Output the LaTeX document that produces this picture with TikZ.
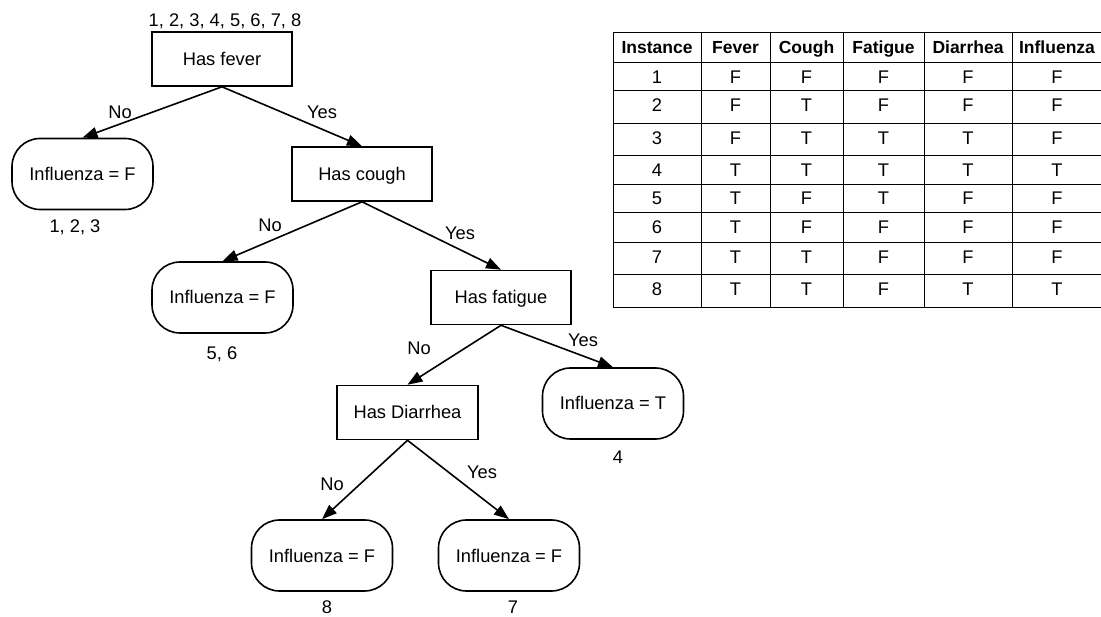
\documentclass[tikz,border=0pt]{standalone}
\usepackage{fontspec}
\setmainfont{Liberation Sans}
\usetikzlibrary{arrows.meta}

\begin{document}
\begin{tikzpicture}[x=1pt,y=-1pt,
  font=\fontsize{18.3}{21}\selectfont,
  txt/.style={inner sep=0pt,text height=13pt,text depth=0pt},
  testbox/.style={txt,draw,line width=1.6pt,minimum width=140pt,minimum height=54pt},
  leafbox/.style={txt,draw,line width=1.6pt,minimum width=141pt,minimum height=71pt,rounded corners=28pt},
  branch/.style={line width=1.6pt,-{Triangle[length=15pt,width=11pt]}},
  grid/.style={line width=1pt}]

\useasboundingbox (0,0) rectangle (1101,617);

% decision tree
\node[testbox] (fever)    at (222,59)      {Has fever};
\node[leafbox] (leafA)    at (82.5,174)    {Influenza = F};
\node[testbox] (cough)    at (362,174)     {Has cough};
\node[leafbox] (leafB)    at (222.5,297.5) {Influenza = F};
\node[testbox] (fatigue)  at (501,297.5)   {Has fatigue};
\node[testbox,minimum width=141pt] (diarrhea) at (407.5,412.5) {Has Diarrhea};
\node[leafbox] (leafC)    at (613,403.5)   {Influenza = T};
\node[leafbox] (leafD)    at (322,555.5)   {Influenza = F};
\node[leafbox] (leafE)    at (509,555.5)   {Influenza = F};

\draw[branch] (fever.south)    -- (leafA.north);
\draw[branch] (fever.south)    -- (cough.north);
\draw[branch] (cough.south)    -- (leafB.north);
\draw[branch] (cough.south)    -- (fatigue.north);
\draw[branch] (fatigue.south)  -- (diarrhea.north);
\draw[branch] (fatigue.south)  -- (leafC.north);
\draw[branch] (diarrhea.south) -- (leafD.north);
\draw[branch] (diarrhea.south) -- (leafE.north);

% branch labels
\node[txt] (n1) at (120,112) {No};
\node[txt] (y1) at (322,112) {Yes};
\node[txt] (n2) at (270,225) {No};
\node[txt] (y2) at (460,233) {Yes};
\node[txt] (n3) at (419,348) {No};
\node[txt] (y3) at (583,340) {Yes};
\node[txt] (n4) at (332,484) {No};
\node[txt] (y4) at (482,472) {Yes};

% instance sets
\node[txt] (sAll) at (225,20)  {1, 2, 3, 4, 5, 6, 7, 8};
\node[txt] (sA)   at (75,226)  {1, 2, 3};
\node[txt] (sB)   at (222,353) {5, 6};
\node[txt] (sC)   at (618,457) {4};
\node[txt] (sD)   at (327,607) {8};
\node[txt] (sE)   at (513,607) {7};

% data table
\foreach \x in {613,701,770,843,924,1012,1102}
  \draw[grid] (\x,33) -- (\x,308);
\foreach \y in {33,63,91,124,156,185,213,243,275,308}
  \draw[grid] (613,\y) -- (1102,\y);

\foreach \t/\cx [count=\i] in {Instance/657,Fever/735.5,Cough/806.5,Fatigue/883.5,Diarrhea/968,Influenza/1057}
  \node[txt,font=\fontsize{17.5}{20}\selectfont\bfseries] (h\i) at (\cx,47) {\t};

\foreach \r/\ty/\a/\b/\c/\d/\e in {
  1/77/F/F/F/F/F,
  2/105/F/T/F/F/F,
  3/138/F/T/T/T/F,
  4/170/T/T/T/T/T,
  5/198/T/F/T/F/F,
  6/227/T/F/F/F/F,
  7/257/T/T/F/F/F,
  8/289/T/T/F/T/T}{
  \node[txt] (r\r c1) at (657,\ty)    {\r};
  \node[txt] (r\r c2) at (735.5,\ty)  {\a};
  \node[txt] (r\r c3) at (806.5,\ty)  {\b};
  \node[txt] (r\r c4) at (883.5,\ty)  {\c};
  \node[txt] (r\r c5) at (968,\ty)    {\d};
  \node[txt] (r\r c6) at (1057,\ty)   {\e};
}
\end{tikzpicture}
\end{document}
